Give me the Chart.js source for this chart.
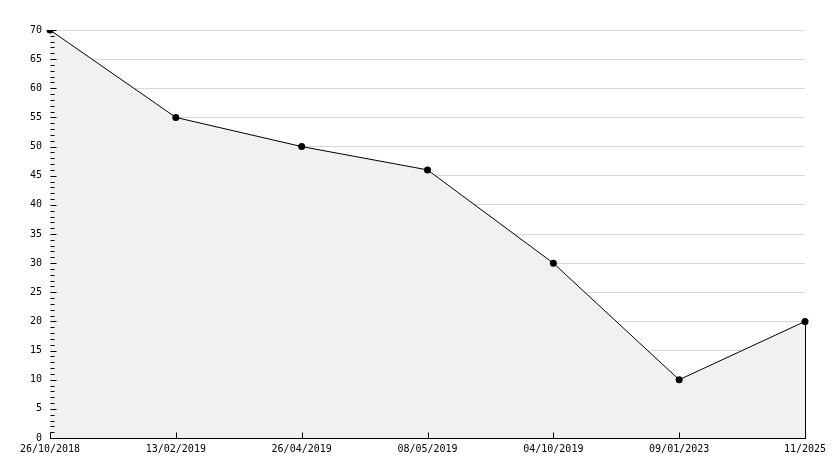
<!DOCTYPE html>
<html>
<head>
<meta charset="utf-8">
<script src="https://cdn.jsdelivr.net/npm/chart.js@4/dist/chart.umd.min.js"></script>
<style>
html,body{margin:0;padding:0;background:#fff;}
#wrap{width:834px;height:468px;}
</style>
</head>
<body>
<div id="wrap"><canvas id="c" width="834" height="468"></canvas></div>
<script>
const categories = ["26/10/2018","13/02/2019","26/04/2019","08/05/2019","04/10/2019","09/01/2023","11/2025"];
const values = [70, 55, 50, 46, 30, 10, 20];
const yMin = 0, yMax = 70, yStep = 5;

const tickPlugin = {
  id: 'tickPlugin',
  afterDatasetsDraw(chart) {
    const ctx = chart.ctx;
    const y = chart.scales.y, x = chart.scales.x;
    const area = chart.chartArea;
    ctx.save();
    ctx.strokeStyle = '#000';
    ctx.lineWidth = 1;
    ctx.beginPath();
    const ax = Math.round(area.left) + 0.5;
    for (let v = yMin; v <= yMax; v++) {
      const py = Math.round(y.getPixelForValue(v)) + 0.5;
      const len = (v % yStep === 0) ? 6 : 4;
      ctx.moveTo(ax, py); ctx.lineTo(ax + len, py);
    }
    const by = Math.round(area.bottom) + 0.5;
    for (let i = 0; i < categories.length; i++) {
      const px = Math.round(x.getPixelForValue(i)) + 0.5;
      ctx.moveTo(px, by); ctx.lineTo(px, by - 6);
    }
    const lx = Math.round(x.getPixelForValue(categories.length - 1)) + 0.5;
    ctx.moveTo(lx, y.getPixelForValue(values[values.length - 1]));
    ctx.lineTo(lx, by);
    ctx.stroke();
    ctx.restore();
  }
};

new Chart(document.getElementById('c'), {
  type: 'line',
  data: {
    labels: categories,
    datasets: [{
      data: values,
      borderColor: '#000',
      borderWidth: 1,
      backgroundColor: '#f1f1f1',
      fill: 'origin',
      tension: 0,
      pointRadius: 3.5,
      pointBackgroundColor: '#000',
      pointBorderColor: '#000',
      pointBorderWidth: 0
    }]
  },
  options: {
    responsive: false,
    animation: false,
    devicePixelRatio: 1,
    layout: { padding: { top: 30, right: 29, left: 0, bottom: 0 } },
    plugins: { legend: { display: false }, tooltip: { enabled: false } },
    scales: {
      x: {
        type: 'category',
        offset: false,
        grid: { display: false, drawTicks: false },
        border: { display: true, color: '#000', width: 1 },
        ticks: { color: '#000', font: { family: 'DejaVu Sans Mono', size: 10 }, padding: 5, maxRotation: 0, autoSkip: false },
        afterFit(s) { s.height = 30; }
      },
      y: {
        min: yMin, max: yMax,
        grid: { color: '#d8d8d8', lineWidth: 1, drawTicks: false },
        border: { display: true, color: '#000', width: 1 },
        ticks: { stepSize: yStep, color: '#000', font: { family: 'DejaVu Sans Mono', size: 10 }, padding: 8 },
        afterFit(s) { s.width = 50; }
      }
    }
  },
  plugins: [tickPlugin]
});
</script>
</body>
</html>
